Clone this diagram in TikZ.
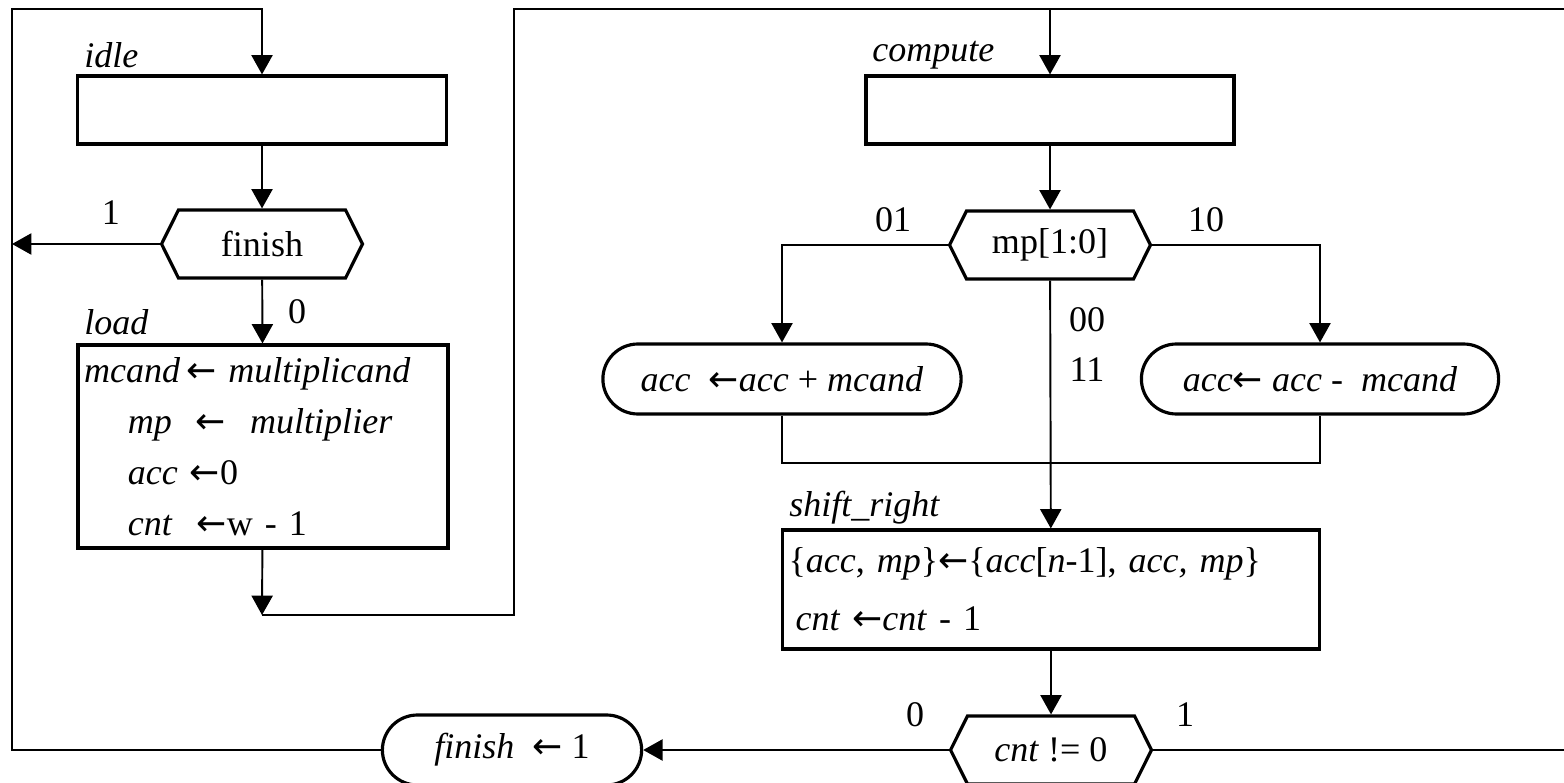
\documentclass[tikz,border=0pt]{standalone}
\usepackage{fontspec}
\setmainfont{Liberation Serif}
\newfontfamily\arrowfont{DejaVu Sans}
\newcommand{\asgn}{{\arrowfont ←}}
\usetikzlibrary{shapes, arrows.meta, positioning, calc}
\tikzset{every node/.style={font=\fontsize{20.5}{29}\selectfont}}

\begin{document}
\begin{tikzpicture}[x=0.02cm, y=-0.02cm]
  \tikzstyle{state} = [rectangle, minimum width=7.38cm, minimum height=1.36cm, draw=black, line width=1.8pt]
  \tikzstyle{test} = [signal, signal to=west and east, signal from=nowhere, signal pointer angle=127, minimum width=4.02cm, minimum height=1.36cm, inner sep=0pt, draw=black, line width=1.8pt]
  \tikzstyle{action} = [rounded rectangle, minimum height=1.4cm, draw=black, line width=1.8pt]
  \tikzstyle{statename} = [anchor=west, inner sep=0pt, font=\fontsize{20.5}{29}\selectfont\itshape]
  \tikzstyle{branch} = [inner sep=0pt]
  \tikzstyle{arrow} = [line width=1.1pt, -{Triangle[length=11pt,width=12pt]}]
  \tikzstyle{wire} = [line width=1.1pt]
  \useasboundingbox (0,0) rectangle (1564,783);
  % left column: idle and load
  \node (idle) [state] at (262,110) {};
  \node (finishq) [test] at (262,244) {finish};
  \node (load) [state, minimum width=7.4cm, minimum height=4.06cm, text width=7.16cm, inner xsep=0.12cm, align=left] at (263,446.5) {%
    \textit{mcand}\,\asgn\ \textit{multiplicand}\\
    \hspace*{25pt}\textit{mp} \ \asgn\ \ \textit{multiplier}\\
    \hspace*{25pt}\textit{acc} \asgn0\\
    \hspace*{25pt}\textit{cnt} \ \asgn w - 1};
  \node [statename] at (84,55) {idle};
  \node [statename] at (84,322) {load};
  % right column: compute and shift_right
  \node (compute) [state, minimum width=7.36cm] at (1050,110) {};
  \node (mpq) [test] at (1050,245) {mp[1:0]};
  \node (add) [action, minimum width=7.4cm] at (782,379) {\textit{acc} \ \asgn\textit{acc} + \textit{mcand}};
  \node (sub) [action, minimum width=7.38cm] at (1320,379) {\textit{acc}\asgn\ \textit{acc} - \ \textit{mcand}};
  \node (shift) [state, minimum width=10.74cm, minimum height=2.38cm, text width=10.5cm, inner xsep=0.12cm, align=left] at (1051,589.5) {%
    \{\textit{acc}, \textit{mp}\}\asgn\{\textit{acc}[\textit{n}-1], \textit{acc, mp}\}\\[4pt]
    \hspace*{4pt}\textit{cnt} \asgn\textit{cnt} - 1};
  \node (cntq) [test] at (1051,750) {\textit{cnt} != 0};
  \node (done) [action, minimum width=5.42cm] at (512,750) {\textit{finish} \ \asgn\ 1};
  \node [statename] at (872,55) {compute};
  \node [statename] at (789,508) {shift\_right};
  % branch values
  \node [branch] at (111,213) {1};
  \node [branch] at (297,312) {0};
  \node [branch] at (893,220) {01};
  \node [branch] at (1206,220) {10};
  \node [branch] at (1087,320) {00};
  \node [branch] at (1087,370) {11};
  \node [branch] at (915,715) {0};
  \node [branch] at (1185,715) {1};
  % corners of the loops
  \coordinate (lefttop) at (12,9);
  \coordinate (join) at (514,9);
  \coordinate (loadout) at (262,615);
  \coordinate (merge) at (1050,463);
  \coordinate (rtop) at (1564,9);
  \coordinate (rbot) at (1564,750);
  \draw [arrow] (done.west) -| (lefttop) -| (idle.north);
  \draw [arrow] (idle) -- (finishq);
  \draw [arrow] (finishq.west) -- (finishq.west -| lefttop);
  \draw [arrow] (finishq) -- (load);
  \draw [arrow] (load) -- (loadout);
  \draw [arrow] (loadout) -| (join) -| (compute.north);
  \draw [wire] (compute.north |- rtop) -- (rtop);
  \draw [arrow] (compute) -- (mpq);
  \draw [arrow] (mpq.west) -| (add.north);
  \draw [arrow] (mpq.east) -| (sub.north);
  \draw [arrow] (mpq) -- (shift);
  \draw [wire] (add.south) |- (merge) -| (sub.south);
  \draw [arrow] (shift) -- (cntq);
  \draw [arrow] (cntq.west) -- (done.east);
  \draw [wire] (cntq.east) -- (rbot);
\end{tikzpicture}
\end{document}
